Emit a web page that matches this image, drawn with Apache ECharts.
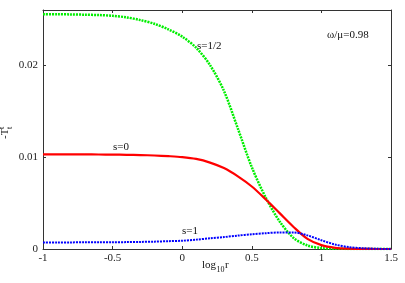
<!DOCTYPE html>
<html><head><meta charset="utf-8">
<script src="https://cdn.jsdelivr.net/npm/echarts@6/dist/echarts.min.js"></script>
<style>html,body{margin:0;padding:0;background:#fff}#c{width:405px;height:283px}</style>
</head><body><div id="c"></div>
<script>
const xTicks = [-1, -0.5, 0, 0.5, 1, 1.5];
const yTicks = [0, 0.01, 0.02];
const logR = [-1, -0.9, -0.8, -0.7, -0.6, -0.5, -0.4, -0.3, -0.2, -0.1, 0, 0.1, 0.2, 0.3, 0.4, 0.5, 0.6, 0.7, 0.8, 0.9, 1.0, 1.1, 1.2, 1.3, 1.4, 1.5];
const sHalf = [0.02555, 0.02554, 0.02552, 0.02549, 0.02545, 0.02537, 0.0252, 0.0249, 0.0245, 0.0239, 0.0231, 0.0219, 0.0200, 0.0172, 0.0131, 0.0089, 0.0056, 0.0030, 0.0012, 0.00038, 0.0001, 0.00003, 0.00001, 0, 0, 0];
const sZero = [0.0103, 0.0103, 0.0103, 0.01029, 0.01028, 0.01027, 0.01025, 0.01022, 0.01017, 0.0101, 0.0100, 0.0098, 0.0094, 0.0088, 0.0079, 0.0068, 0.0054, 0.0039, 0.0024, 0.0011, 0.00042, 0.00013, 0.00004, 0.00001, 0, 0];
const sOne = [0.00072, 0.00072, 0.00072, 0.00073, 0.00073, 0.00074, 0.00075, 0.00077, 0.0008, 0.00085, 0.0009, 0.00102, 0.00116, 0.0013, 0.00146, 0.0016, 0.00172, 0.0018, 0.0018, 0.00148, 0.00095, 0.00048, 0.0002, 0.00008, 0.00002, 0];
const zip = (a, b) => a.map((v, i) => [v, b[i]]);
const F = "'Liberation Serif', 'DejaVu Serif', serif";
const chart = echarts.init(document.getElementById('c'), null, {renderer: 'canvas'});
const axisCommon = {
  axisLine: {show: true, onZero: false, lineStyle: {color: '#333', width: 1}},
  splitLine: {show: false}
};
const txt = (x, y, s, size, va) => ({type: 'text', x: x, y: y,
  style: {text: s, fontFamily: F, fontSize: size, fill: '#111', textVerticalAlign: va || 'bottom', textAlign: 'left'}});
chart.setOption({
  animation: false,
  grid: {left: 43, right: 14, top: 10, bottom: 34},
  xAxis: [
    Object.assign({type: 'value', min: -1, max: 1.5, interval: 0.5, position: 'bottom',
      axisTick: {inside: true, length: 3, lineStyle: {color: '#333'}, customValues: xTicks},
      axisLabel: {fontFamily: F, fontSize: 11, color: '#222', margin: 4, customValues: xTicks,
        formatter: v => String(v)}}, axisCommon),
    Object.assign({type: 'value', min: -1, max: 1.5, interval: 0.5, position: 'top',
      axisTick: {inside: true, length: 3, lineStyle: {color: '#333'}, customValues: xTicks},
      axisLabel: {show: false}}, axisCommon)
  ],
  yAxis: [
    Object.assign({type: 'value', min: 0, max: 0.026, interval: 0.01, position: 'left',
      axisTick: {inside: true, length: 3, lineStyle: {color: '#333'}, customValues: yTicks},
      axisLabel: {fontFamily: F, fontSize: 11, color: '#222', margin: 5, customValues: yTicks,
        formatter: v => String(v)}}, axisCommon),
    Object.assign({type: 'value', min: 0, max: 0.026, interval: 0.01, position: 'right',
      axisTick: {inside: true, length: 3, lineStyle: {color: '#333'}, customValues: yTicks},
      axisLabel: {show: false}}, axisCommon)
  ],
  series: [
    {type: 'line', data: zip(logR, sHalf), smooth: 0.3, showSymbol: false,
      lineStyle: {color: '#00ee00', width: 2.5, type: [2, 1]}},
    {type: 'line', data: zip(logR, sZero), smooth: 0.3, showSymbol: false,
      lineStyle: {color: '#ff0000', width: 2.2}},
    {type: 'line', data: zip(logR, sOne), smooth: 0.3, showSymbol: false,
      lineStyle: {color: '#0000ff', width: 2, type: [2, 1]}}
  ],
  graphic: [
    txt(197, 52, 's=1/2', 11),
    txt(113, 153, 's=0', 11),
    txt(182, 237, 's=1', 11),
    txt(327, 41, 'ω/μ=0.98', 11),
    {type: 'group', x: 11, y: 139, rotation: Math.PI / 2, children: [
      txt(0, 0, '-T', 11),
      txt(10, 3, 't', 8),
      txt(10, -5, 't', 8)
    ]},
    {type: 'group', x: 202, y: 271, children: [
      txt(0, 0, 'log', 11),
      txt(14.5, 3, '10', 8),
      txt(23, 0, 'r', 11)
    ]}
  ]
});
</script></body></html>
